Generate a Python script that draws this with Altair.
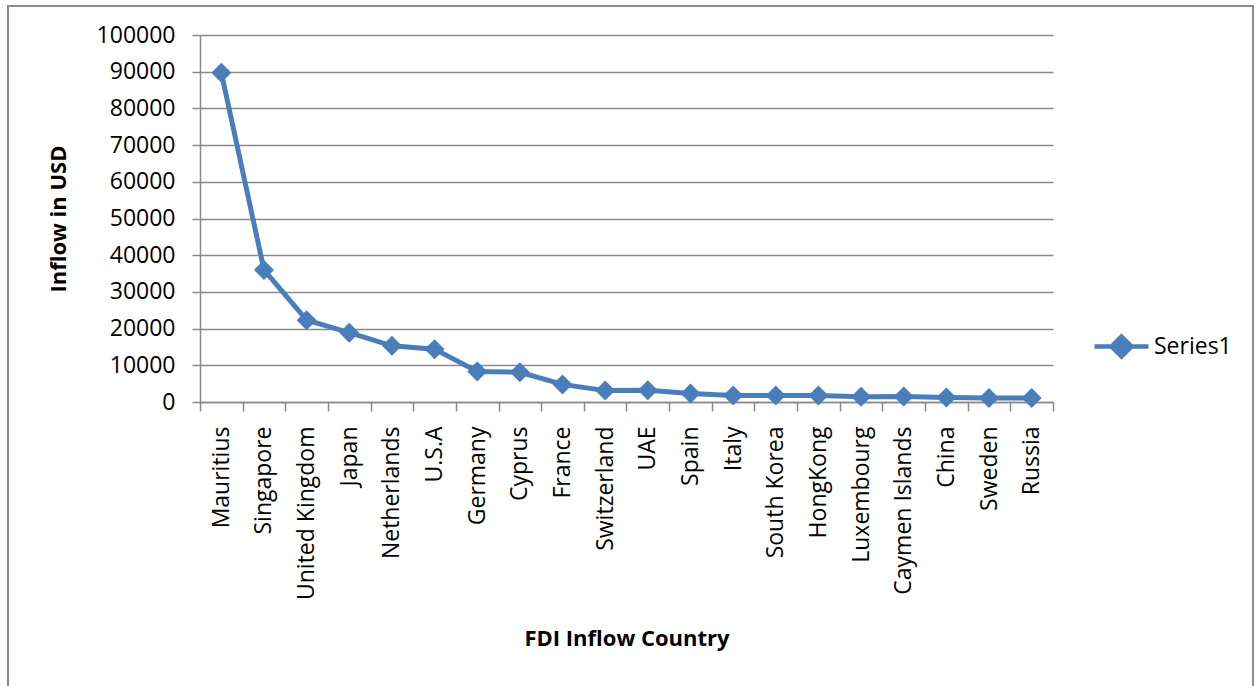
import altair as alt
import pandas as pd

countries = [
    "Mauritius", "Singapore", "United Kingdom", "Japan", "Netherlands", "U.S.A",
    "Germany", "Cyprus", "France", "Switzerland", "UAE", "Spain", "Italy",
    "South Korea", "HongKong", "Luxembourg", "Caymen Islands", "China",
    "Sweden", "Russia",
]
inflow = [
    89700, 36000, 22300, 18900, 15300, 14400, 8300, 8100, 4800, 3100, 3200,
    2300, 1800, 1800, 1800, 1400, 1500, 1200, 1100, 1100,
]
series = ["Series1"] * len(countries)

df = pd.DataFrame({"country": countries, "inflow": inflow, "series": series})

FONT = "Open Sans"
BLUE = "#4a7ebb"
GRID = "#8a8a8a"

x_enc = alt.X(
    "country:N",
    sort=countries,
    bandPosition=0.5,
    scale=alt.Scale(type="band", paddingInner=0, paddingOuter=0),
    axis=alt.Axis(
        title="FDI Inflow Country",
        labelAngle=-90,
        labelFontSize=23,
        labelFont=FONT,
        labelColor="black",
        labelPadding=15,
        tickBand="extent",
        tickSize=9,
        tickColor=GRID,
        tickWidth=1.5,
        domainColor=GRID,
        domainWidth=1.5,
        grid=False,
        titleFont=FONT,
        titleFontSize=22,
        titleFontWeight="bold",
        titleColor="black",
        titleY=236,
        titleBaseline="middle",
    ),
)

y_enc = alt.Y(
    "inflow:Q",
    scale=alt.Scale(domain=[0, 100000], nice=False),
    axis=alt.Axis(
        title="Inflow in USD",
        values=list(range(0, 100001, 10000)),
        format="d",
        labelFontSize=23,
        labelFont=FONT,
        labelColor="black",
        labelPadding=17,
        tickSize=8,
        tickColor=GRID,
        tickWidth=1.5,
        domainColor=GRID,
        domainWidth=1.5,
        gridColor=GRID,
        gridWidth=1.5,
        titleFont=FONT,
        titleFontSize=22,
        titleFontWeight="bold",
        titleColor="black",
        titleX=-142,
        titleBaseline="middle",
    ),
)

legend = alt.Legend(
    title=None,
    orient="none",
    legendX=892,
    legendY=282,
    symbolType="M-1,0H1M0,-0.37L0.37,0L0,0.37L-0.37,0Z",
    symbolSize=2916,
    symbolStrokeWidth=4.5,
    labelFont=FONT,
    labelFontSize=23,
    labelColor="black",
    labelOffset=3,
)

color_enc = alt.Color(
    "series:N", scale=alt.Scale(range=[BLUE]), legend=legend
)

line = alt.Chart(df).mark_line(strokeWidth=5, color=BLUE).encode(
    x=x_enc, y=y_enc, color=color_enc
)
points = alt.Chart(df).mark_point(
    shape="diamond", size=400, filled=True, opacity=1, color=BLUE
).encode(x=x_enc, y=y_enc, color=alt.Color("series:N", legend=None, scale=alt.Scale(range=[BLUE])))

# outer frame around the whole chart
frame = alt.Chart(df).mark_rect(
    fill=None, stroke="#8c8c8c", strokeWidth=1.5, clip=False
).encode(
    x=alt.value(-192), x2=alt.value(1053), y=alt.value(-29), y2=alt.value(700)
)

chart = alt.layer(frame, line, points).properties(
    width=853,
    height=367,
    autosize=alt.AutoSizeParams(type="none"),
    padding={"left": 200, "top": 35, "right": 202, "bottom": 284},
    background="white",
).configure_view(stroke=None)

chart.save("out.html", embed_options={"renderer": "svg", "actions": False})
